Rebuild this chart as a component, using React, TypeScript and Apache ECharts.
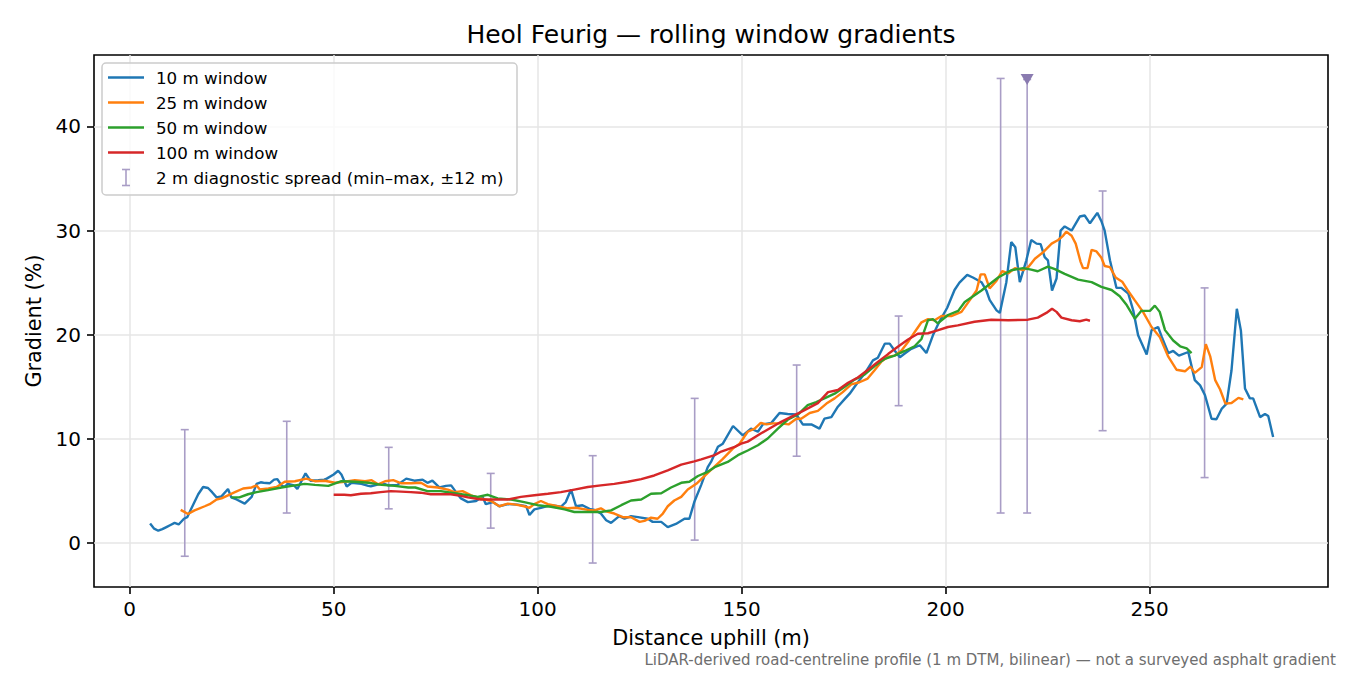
import { useEffect, useRef } from "react";
import * as echarts from "echarts";

const FONT = "DejaVu Sans";

// [distance uphill (m), gradient (%)]
const win10: number[][] = [
  [5, 1.9], [6, 1.4], [7, 1.2], [8, 1.35], [9, 1.55], [10, 1.75], [11, 1.95], [12, 1.8],
  [13.3, 2.35], [14.1, 2.5], [15.5, 3.65], [16.8, 4.7], [18, 5.4], [19.2, 5.3], [20.2, 4.9],
  [21.3, 4.4], [22.5, 4.5], [24.1, 5.2], [24.9, 4.4], [26.2, 4.2], [28.2, 3.8], [29.9, 4.45],
  [31.1, 5.7], [32.1, 5.85], [32.8, 5.8], [34.3, 5.75], [35.4, 6.1], [36.2, 6.15], [37.2, 5.55],
  [37.9, 5.4], [38.8, 5.7], [40.3, 5.55], [41.1, 5.2], [43.1, 6.7], [44.3, 6.0], [46.2, 6.05],
  [47.7, 6.1], [48.3, 6.2], [50, 6.6], [51.1, 6.95], [51.9, 6.6], [53.2, 5.45], [54.4, 5.8],
  [56.8, 5.7], [58.5, 5.5], [59.1, 5.45], [61, 5.65], [62.4, 5.7], [63.4, 5.55], [65.6, 5.6],
  [67.8, 6.2], [69.8, 6.0], [71.8, 6.1], [73, 5.8], [74.2, 6.0], [75.9, 5.35], [77.5, 5.5],
  [78.8, 5.55], [80, 4.9], [81.2, 4.3], [82.9, 3.95], [84.9, 4.05], [86.5, 4.45], [87.3, 3.75],
  [89, 3.95], [90.6, 3.55], [92.7, 3.75], [95.1, 3.7], [97.2, 3.55], [98, 2.7], [99.2, 3.25],
  [100.8, 3.4], [103.3, 3.65], [105.7, 3.5], [106.9, 3.95], [108.2, 5.15], [109.4, 3.55],
  [111, 3.65], [112.7, 3.3], [113.9, 3.2], [115.5, 2.85], [116.8, 2.2], [118, 1.95], [120, 2.6],
  [121.3, 2.35], [122.9, 2.6], [124.6, 2.5], [127, 2.35], [128.2, 2.05], [130.3, 2.05],
  [131.9, 1.55], [133.9, 1.85], [136, 2.35], [137.2, 2.35], [138.4, 3.95], [140.1, 5.6],
  [141.7, 7.3], [142.5, 7.8], [144.2, 9.25], [145.4, 9.55], [147.9, 11.25], [150.3, 10.35],
  [152.3, 11.0], [154, 10.7], [155.2, 11.4], [157.3, 11.55], [159.3, 12.5], [161.3, 12.4],
  [163.4, 12.35], [165, 11.4], [167.1, 11.4], [169.1, 11.0], [170.3, 11.95], [172, 12.1],
  [173.6, 13.1], [175.2, 13.8], [176.5, 14.35], [178.5, 15.45], [180.2, 16.3], [182.2, 17.55],
  [183.4, 17.8], [185.1, 19.15], [186.3, 19.15], [187.5, 18.5], [188.8, 17.85], [190, 18.2],
  [191.6, 18.65], [193.7, 19.0], [195.3, 18.25], [196.9, 19.95], [198.4, 21.2], [200.4, 22.6],
  [202.2, 24.3], [203.4, 25.0], [205.3, 25.75], [206.7, 25.5], [208.8, 25.05], [210, 24.25],
  [210.8, 23.35], [212.5, 22.35], [213.3, 22.1], [214.9, 25.05], [216.1, 28.9], [217.1, 28.4],
  [218.2, 25.05], [219.8, 27.15], [221, 29.1], [222.3, 28.75], [223.3, 28.7], [224.3, 27.45],
  [225.1, 27.15], [226.1, 24.25], [227.2, 25.4], [228.2, 30.0], [229.2, 30.4], [230.9, 30.0],
  [232.9, 31.35], [234.1, 31.45], [235.4, 30.7], [237.2, 31.7], [238.2, 30.9], [239, 30.0],
  [240.3, 27.15], [241.9, 24.5], [243.1, 24.5], [244.8, 23.95], [246, 22.35], [247.2, 19.95],
  [249.3, 18.1], [250.5, 20.45], [252.1, 20.75], [253, 19.8], [254.6, 18.25], [255.8, 18.45],
  [257.2, 18.0], [259.5, 18.35], [261.1, 15.65], [262.4, 15.15], [263.6, 14.2], [265.2, 11.95],
  [266.4, 11.9], [267.7, 12.9], [268.9, 13.4], [270.1, 16.6], [271.4, 22.5], [272.4, 20.4],
  [273.4, 14.85], [274.6, 13.9], [275.4, 13.9], [277.1, 12.1], [278.3, 12.4], [279.1, 12.2],
  [280.3, 10.2],
];

const win25: number[][] = [
  [12.5, 3.2], [14.3, 2.8], [15.9, 3.15], [18.4, 3.55], [19.6, 3.75], [21.3, 4.2], [22.5, 4.3],
  [24.1, 4.6], [25.8, 4.9], [27.8, 5.25], [29.9, 5.35], [31.1, 5.55], [31.9, 5.15], [34, 5.25],
  [36, 5.4], [38, 5.9], [40.5, 5.95], [43.3, 6.2], [45.4, 5.95], [47.8, 6.0], [50.3, 5.8],
  [52.7, 5.9], [55.2, 6.05], [57.7, 5.95], [59.3, 6.05], [60.9, 5.65], [62.6, 5.95], [64.6, 6.05],
  [66.6, 5.75], [69, 5.75], [71.4, 5.8], [73, 5.45], [75.5, 5.35], [78, 5.15], [79.6, 4.9],
  [81.6, 5.0], [83.7, 4.6], [86.1, 4.3], [88.6, 4.05], [90.6, 3.55], [92.7, 3.8], [94.7, 3.7],
  [96.7, 3.55], [98, 3.4], [99.2, 3.75], [100.8, 4.05], [102.5, 3.75], [104.9, 3.55],
  [107.4, 3.35], [109.4, 3.4], [112.3, 3.2], [113.9, 3.15], [115.5, 3.35], [116.8, 3.05],
  [118.8, 2.85], [120.9, 2.5], [122.9, 2.5], [125, 2.05], [126.2, 2.15], [127.8, 2.45],
  [129.4, 2.35], [130.7, 2.85], [131.9, 3.55], [133.5, 4.1], [135.2, 4.45], [136.8, 5.15],
  [138.9, 5.7], [140.5, 6.3], [142.5, 7.05], [145.4, 8.1], [147.9, 9.1], [149.5, 9.55],
  [151.5, 10.7], [153.2, 11.0], [154.7, 11.55], [156.1, 11.4], [157.7, 11.5], [159.7, 11.5],
  [161.5, 11.4], [163.4, 11.95], [164.6, 11.95], [166.7, 12.5], [168.7, 12.7], [170.8, 13.4],
  [172.8, 13.9], [174.8, 14.5], [176.9, 15.25], [178.9, 15.45], [180.9, 15.8], [182.6, 16.6],
  [184.2, 17.4], [185.9, 17.9], [187.5, 18.0], [189.2, 18.5], [190.8, 19.3], [192.4, 20.25],
  [194.1, 21.2], [195.7, 21.5], [197.3, 21.4], [199, 21.8], [201.4, 21.8], [203.9, 22.2],
  [205.9, 23.3], [207.6, 24.25], [208.6, 25.8], [209.6, 25.8], [210.8, 24.45], [212.5, 25.2],
  [213.9, 26.1], [215.4, 25.9], [217, 26.4], [219, 26.2], [220.3, 26.5], [221.9, 27.3],
  [224, 27.95], [226, 28.75], [227.6, 29.1], [228.8, 29.5], [229.6, 29.9], [230.9, 29.5],
  [231.9, 28.75], [233.1, 27.0], [233.7, 26.4], [234.8, 26.4], [235.8, 28.15], [237, 28.0],
  [238.2, 27.4], [239, 26.6], [240.3, 26.5], [241.7, 25.5], [243.3, 25.1], [244.6, 24.3],
  [246.4, 23.3], [248.4, 22.2], [250.5, 20.75], [252.5, 19.8], [254.6, 17.9], [256.6, 16.65],
  [258.7, 16.5], [260, 16.95], [261.1, 16.35], [262.8, 16.9], [263.8, 19.1], [264.9, 17.9],
  [266.1, 15.65], [267.3, 14.75], [268.6, 13.4], [270.1, 13.45], [271.8, 13.95], [273, 13.8],
];

const win50: number[][] = [
  [24.9, 4.4], [26.9, 4.4], [29, 4.7], [31.1, 4.9], [33.9, 5.1], [37.2, 5.35], [40.5, 5.55],
  [42.9, 5.7], [45.4, 5.6], [48.7, 5.5], [51.9, 5.95], [55.2, 5.9], [58.5, 5.8], [61.8, 5.6],
  [65, 5.5], [68.3, 5.35], [70, 5.35], [73, 5.0], [76.3, 5.0], [79.6, 4.8], [82.9, 4.6],
  [85.3, 4.45], [87.8, 4.65], [90.2, 4.3], [93.5, 4.2], [96.7, 3.95], [100, 3.65], [103.3, 3.5],
  [106.6, 3.25], [109, 3.0], [112.3, 3.0], [115.5, 3.0], [118, 3.15], [120.5, 3.65],
  [122.9, 4.1], [125.4, 4.2], [127.8, 4.75], [130.3, 4.8], [132.7, 5.35], [135.2, 5.8],
  [137.2, 5.9], [139.3, 6.45], [141.7, 6.85], [143.4, 7.3], [146.6, 7.8], [149.1, 8.45],
  [151.5, 8.9], [154, 9.4], [156.4, 10.05], [158.9, 11.0], [161.3, 11.85], [163.8, 12.35],
  [166.2, 13.25], [168.3, 13.55], [170.3, 13.9], [172.8, 14.35], [175.2, 15.0], [177.7, 15.7],
  [180.2, 16.2], [182.6, 17.0], [185.1, 17.7], [187.5, 18.0], [190, 18.45], [192.4, 18.9],
  [194.1, 19.6], [195.7, 21.4], [196.9, 21.5], [198.1, 21.1], [200.6, 21.9], [203.1, 22.3],
  [204.7, 23.15], [208.8, 24.25], [212.9, 25.5], [216.1, 26.2], [219, 26.4], [221, 26.25],
  [222.6, 26.1], [225.1, 26.55], [226.8, 26.3], [229.2, 25.85], [232.5, 25.3], [235.8, 25.05],
  [238.2, 24.6], [240.7, 24.3], [242.7, 23.7], [244.4, 22.85], [246.4, 21.55], [248, 22.3],
  [250.1, 22.3], [251.3, 22.8], [252.5, 22.2], [253.8, 20.45], [255.8, 19.45], [257.5, 18.9],
  [259.1, 18.7], [260.3, 18.25],
];

const win100: number[][] = [
  [50, 4.65], [52.6, 4.65], [54.2, 4.6], [56.7, 4.75], [59.1, 4.8], [61.5, 4.9], [64, 5.0],
  [66.5, 4.95], [68.9, 4.9], [71.3, 4.85], [73.8, 4.7], [76.3, 4.7], [78.7, 4.7], [81.2, 4.55],
  [82.9, 4.4], [86.1, 4.2], [89.4, 4.2], [92.7, 4.2], [95.9, 4.45], [99.2, 4.6], [102.5, 4.75],
  [105.7, 4.9], [109, 5.15], [112.3, 5.4], [115.5, 5.55], [118.8, 5.7], [122.1, 5.9],
  [125.4, 6.15], [128.6, 6.5], [131.9, 7.0], [135.2, 7.55], [138.4, 7.85], [140.1, 8.05],
  [143.4, 8.45], [145, 8.8], [148.3, 9.25], [149.9, 9.55], [151.5, 9.75], [154.8, 10.55],
  [159.7, 11.65], [164.6, 12.6], [168.7, 13.45], [171.2, 14.5], [173.6, 14.7], [176.1, 15.4],
  [178.5, 15.9], [181, 16.65], [183.4, 17.4], [185.9, 18.15], [188.3, 18.85], [190.8, 19.55],
  [193.2, 20.1], [195.7, 20.15], [198.2, 20.45], [200.6, 20.75], [203, 20.9], [207.1, 21.25],
  [211.2, 21.45], [215.4, 21.4], [220.2, 21.45], [222.6, 21.65], [224.7, 22.1], [226.1, 22.5],
  [227.2, 22.2], [228.4, 21.65], [230.9, 21.4], [232.9, 21.3], [234.5, 21.45], [235.4, 21.35],
];

// 2 m diagnostic spread (min–max within ±12 m)
const spreadAt = [13.5, 38.5, 63.5, 88.5, 113.5, 138.5, 163.5, 188.5, 213.5, 220, 238.5, 263.5];
const spreadMin = [-1.25, 2.9, 3.3, 1.45, -1.9, 0.3, 8.35, 13.2, 2.9, 2.9, 10.8, 6.3];
const spreadMax = [10.9, 11.7, 9.2, 6.7, 8.4, 13.9, 17.1, 21.8, 44.6, 44.5, 33.8, 24.5];

const peakAt = 220;
const peakValue = 44.5;

const xTicks = [0, 50, 100, 150, 200, 250];
const yTicks = [0, 10, 20, 30, 40];

const seriesNames = ["10 m window", "25 m window", "50 m window", "100 m window"];
const seriesColors = ["#1f77b4", "#ff7f0e", "#2ca02c", "#d62728"];
const spreadLabel = "2 m diagnostic spread (min\u2013max, \u00b112 m)";

const SPREAD_COLOR = "#a99dc6";
const PEAK_COLOR = "#8a7bb0";

const App = () => {
  const chartRef = useRef<HTMLDivElement>(null);

  useEffect(() => {
    const chart = echarts.init(chartRef.current, null, { renderer: "svg" });

    const lines = [win10, win25, win50, win100].map((data, i) => ({
      name: seriesNames[i],
      type: "line",
      data,
      symbol: "none",
      z: 3 + i,
      lineStyle: { color: seriesColors[i], width: 2.4 },
      itemStyle: { color: seriesColors[i] },
    }));

    // legend drawn by hand to mimic the boxed matplotlib legend
    const legendFont = `16.7px "${FONT}"`;
    const legendItems: any[] = [
      {
        type: "rect",
        z: 100,
        shape: { x: 102, y: 63, width: 415, height: 132, r: 4 },
        style: { fill: "rgba(255,255,255,0.8)", stroke: "#cccccc", lineWidth: 1.5 },
      },
    ];
    seriesNames.forEach((name, i) => {
      const y = 77.5 + i * 25;
      legendItems.push(
        {
          type: "line",
          z: 101,
          shape: { x1: 108, y1: y, x2: 144, y2: y },
          style: { stroke: seriesColors[i], lineWidth: 2.4 },
        },
        {
          type: "text",
          z: 101,
          x: 156,
          y,
          style: { text: name, font: legendFont, fill: "#000", verticalAlign: "middle" },
        }
      );
    });
    const ey = 77.5 + 4 * 25;
    const iconStyle = { stroke: SPREAD_COLOR, lineWidth: 1.6 };
    legendItems.push(
      { type: "line", z: 101, shape: { x1: 126, y1: ey - 8, x2: 126, y2: ey + 8 }, style: iconStyle },
      { type: "line", z: 101, shape: { x1: 122, y1: ey - 8, x2: 130, y2: ey - 8 }, style: iconStyle },
      { type: "line", z: 101, shape: { x1: 122, y1: ey + 8, x2: 130, y2: ey + 8 }, style: iconStyle },
      {
        type: "text",
        z: 101,
        x: 156,
        y: ey,
        style: { text: spreadLabel, font: legendFont, fill: "#000", verticalAlign: "middle" },
      }
    );

    const options = {
      animation: false,
      backgroundColor: "#ffffff",
      textStyle: { fontFamily: FONT },
      title: {
        text: "Heol Feurig \u2014 rolling window gradients",
        left: 711,
        textAlign: "center",
        top: 22,
        padding: 0,
        textStyle: { fontFamily: FONT, fontSize: 25, fontWeight: "normal", color: "#000" },
      },
      grid: {
        left: 94,
        right: 22,
        top: 55,
        bottom: 88,
        show: true,
        borderColor: "#000",
        borderWidth: 1.6,
        backgroundColor: "transparent",
      },
      xAxis: {
        type: "value",
        min: -8.75,
        max: 293.75,
        name: "Distance uphill (m)",
        nameLocation: "middle",
        nameGap: 40,
        nameTextStyle: { fontFamily: FONT, fontSize: 20.8, color: "#000" },
        axisLine: { show: false, onZero: false },
        axisTick: {
          show: true,
          inside: false,
          length: 7,
          customValues: xTicks,
          lineStyle: { color: "#000", width: 1.6 },
        },
        axisLabel: { customValues: xTicks, color: "#000", fontSize: 20, margin: 12, fontFamily: FONT },
        splitLine: { show: true, lineStyle: { color: "#e6e6e6", width: 1.5 } },
      },
      yAxis: {
        type: "value",
        min: -4.2,
        max: 46.85,
        name: "Gradient (%)",
        nameLocation: "middle",
        nameGap: 50,
        nameTextStyle: { fontFamily: FONT, fontSize: 20.8, color: "#000" },
        axisLine: { show: false, onZero: false },
        axisTick: {
          show: true,
          inside: false,
          length: 7,
          customValues: yTicks,
          lineStyle: { color: "#000", width: 1.6 },
        },
        axisLabel: { customValues: yTicks, color: "#000", fontSize: 20, margin: 13, fontFamily: FONT },
        splitLine: { show: true, lineStyle: { color: "#e6e6e6", width: 1.5 } },
      },
      series: [
        {
          name: spreadLabel,
          type: "custom",
          z: 2,
          data: spreadAt.map((d, i) => [d, spreadMin[i], spreadMax[i]]),
          encode: { x: 0, y: [1, 2] },
          renderItem: (_params: any, api: any) => {
            const x = api.value(0);
            const top = api.coord([x, api.value(2)]);
            const bot = api.coord([x, api.value(1)]);
            const cap = 4;
            const style = { stroke: SPREAD_COLOR, lineWidth: 1.6 };
            return {
              type: "group",
              children: [
                { type: "line", shape: { x1: top[0], y1: top[1], x2: bot[0], y2: bot[1] }, style },
                { type: "line", shape: { x1: top[0] - cap, y1: top[1], x2: top[0] + cap, y2: top[1] }, style },
                { type: "line", shape: { x1: bot[0] - cap, y1: bot[1], x2: bot[0] + cap, y2: bot[1] }, style },
              ],
            };
          },
        },
        ...lines,
        {
          name: "peak",
          type: "scatter",
          z: 8,
          data: [[peakAt, peakValue]],
          symbol: "triangle",
          symbolRotate: 180,
          symbolSize: [13, 11],
          itemStyle: { color: PEAK_COLOR, opacity: 1 },
        },
      ],
      graphic: [
        { type: "group", z: 100, children: legendItems },
        {
          type: "text",
          right: 14,
          top: 652,
          z: 100,
          style: {
            text: "LiDAR-derived road-centreline profile (1 m DTM, bilinear) \u2014 not a surveyed asphalt gradient",
            font: `15px "${FONT}"`,
            fill: "#6e6e6e",
          },
        },
      ],
    };

    chart.setOption(options as any);

    const resizeChart = () => {
      chart.resize();
    };
    window.addEventListener("resize", resizeChart);

    return () => {
      window.removeEventListener("resize", resizeChart);
      chart.dispose();
    };
  }, []);

  return (
    <div
      ref={chartRef}
      style={{ position: "absolute", left: 0, top: 0, width: 1350, height: 675 }}
    />
  );
};

export default App;
